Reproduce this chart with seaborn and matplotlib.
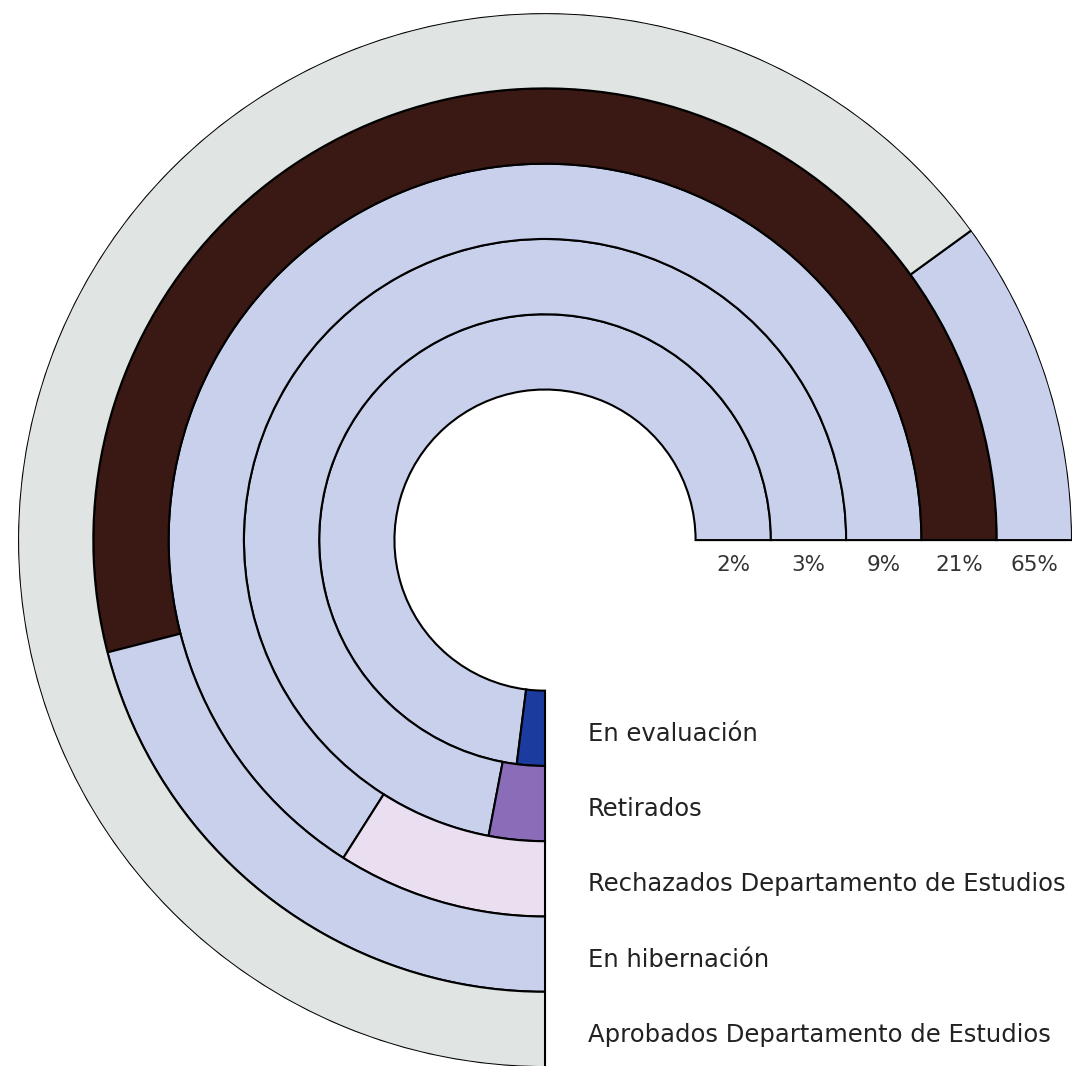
"""
Anillos de estado de proyectos: cada anillo recorre 270° y el tramo final
marca el porcentaje de cada categoría.
"""

import numpy as np
import pandas as pd
import matplotlib
matplotlib.use("Agg")
import matplotlib.pyplot as plt
import seaborn as sns

# ── Datos ─────────────────────────────────────────────────────────────────────
categorias = [
    "En evaluación",
    "Retirados",
    "Rechazados Departamento de Estudios",
    "En hibernación",
    "Aprobados Departamento de Estudios",
]
porcentajes = [2, 3, 9, 21, 65]
etiquetas_pct = ["2%", "3%", "9%", "21%", "65%"]

# ── Estilo ────────────────────────────────────────────────────────────────────
LAVANDA = "#c9d0ec"
COLOR_TRAMO = ["#1b3c9e", "#8a6cb8", "#eadff0", LAVANDA, "#e0e4e3"]  # tramo del valor
COLOR_PISTA = [LAVANDA, LAVANDA, LAVANDA, "#3a1813", LAVANDA]       # resto del anillo

R_HUECO = 2.0          # radio del hueco central (en anchos de anillo)
FIN = 1.5 * np.pi      # todos los anillos terminan abajo (270°)


def main():
    df = pd.DataFrame({"categoria": categorias, "pct": porcentajes, "etiqueta": etiquetas_pct})
    df["r0"] = R_HUECO + np.arange(len(df))
    df["angulo"] = df["pct"] / 100 * 2 * np.pi

    sns.set_theme(style="white")
    plt.rcParams["font.family"] = ["DejaVu Sans"]

    fig = plt.figure(figsize=(10.77, 10.66), dpi=100)
    ax = fig.add_axes([0.0167, -0.001, 0.9787, 0.9887], projection="polar")

    for i, fila in df.iterrows():
        # pista (desde 0° hasta el inicio del tramo)
        ax.bar(0, 1, width=FIN - fila["angulo"], bottom=fila["r0"], align="edge",
               color=COLOR_PISTA[i], edgecolor="black", linewidth=1.5)
        # tramo del valor, pegado al final
        ax.bar(FIN - fila["angulo"], 1, width=fila["angulo"], bottom=fila["r0"], align="edge",
               color=COLOR_TRAMO[i], edgecolor="black", linewidth=1.5)

        ax.annotate(fila["etiqueta"], xy=(0, fila["r0"] + 0.5), xytext=(0, -22.5),
                    textcoords="offset points", ha="center", va="baseline",
                    fontsize=15.5, color="#333333")
        ax.annotate(fila["categoria"], xy=(FIN, fila["r0"] + 0.5), xytext=(31, -9),
                    textcoords="offset points", ha="left", va="baseline",
                    fontsize=17.5, color="#222222")

    ax.set_ylim(0, 7)
    ax.set_axis_off()

    fig.savefig("out.png", dpi=100)


if __name__ == "__main__":
    main()
